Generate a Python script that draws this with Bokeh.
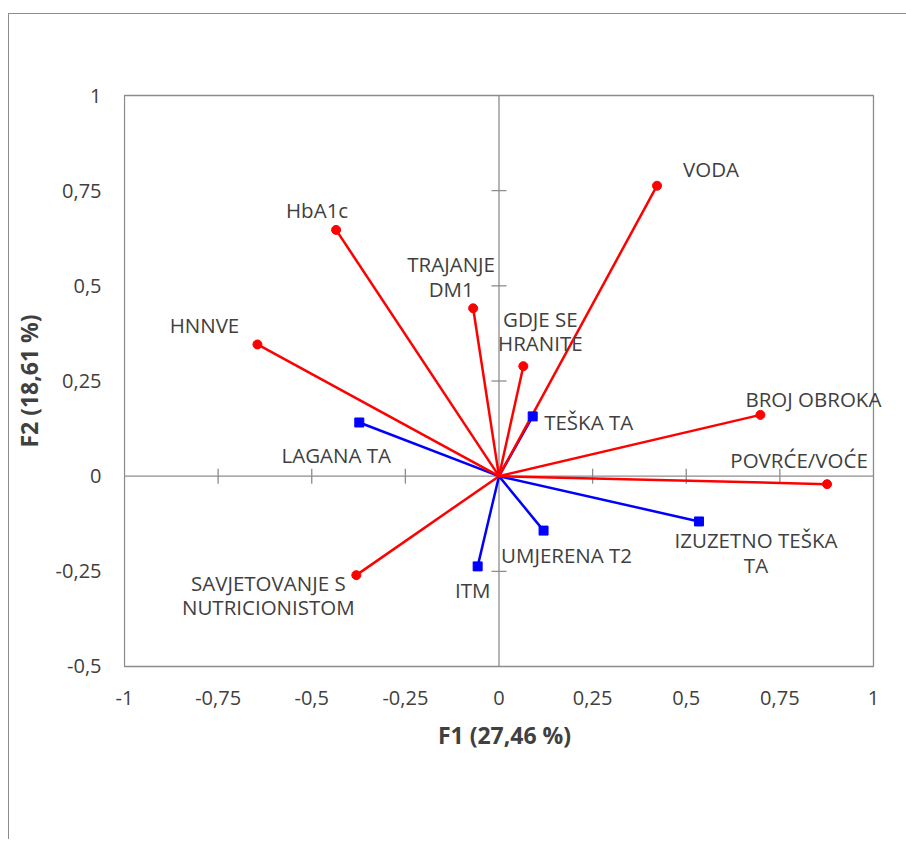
import math
from bokeh.plotting import figure
from bokeh.models import ColumnDataSource, FixedTicker, Label
from bokeh.embed import file_html
from bokeh.resources import INLINE

# ---- data ----
var_names = ["VODA", "HbA1c", "TRAJANJE\nDM1", "HNNVE", "GDJE SE\nHRANITE",
             "BROJ OBROKA", "POVRĆE/VOĆE", "SAVJETOVANJE S\nNUTRICIONISTOM"]
var_f1 = [0.422, -0.435, -0.069, -0.645, 0.065, 0.698, 0.876, -0.381]
var_f2 = [0.763, 0.647, 0.441, 0.346, 0.289, 0.161, -0.021, -0.260]

sup_names = ["LAGANA TA", "TEŠKA TA", "UMJERENA T2", "ITM", "IZUZETNO TEŠKA\nTA"]
sup_f1 = [-0.373, 0.090, 0.119, -0.057, 0.534]
sup_f2 = [0.141, 0.157, -0.143, -0.237, -0.119]

x_ticks = [-1, -0.75, -0.5, -0.25, 0, 0.25, 0.5, 0.75, 1]
x_tick_labels = ["-1", "-0,75", "-0,5", "-0,25", "0", "0,25", "0,5", "0,75", "1"]
y_ticks = [-0.5, -0.25, 0, 0.25, 0.5, 0.75, 1]
y_tick_labels = ["-0,5", "-0,25", "0", "0,25", "0,5", "0,75", "1"]

x_title = "F1 (27,46 %)"
y_title = "F2 (18,61 %)"

# ---- label placement (screen px offsets of block centre, +dy = downwards) ----
var_dx = [54, -19, -22, -53, 17, 53, -28, -88]
var_dy = [-17, -20, -32, -19, -35, -16, -24, 20]
sup_dx = [-23, 56, 23, -5, 57]
sup_dy = [33, 6, 24, 24, 31]
LINE_GAP = 24.5

FONT = "Open Sans"
GRAY = "#8c8c8c"
TXT = "#404040"
FS = "20.5px"

# plot box is 748 x 570 px; the drawing frame gets a little extra room so that
# labels may run over the box edge as in the original
PX_X = 748 / (x_ticks[-1] - x_ticks[0])
PX_Y = 570 / (y_ticks[-1] - y_ticks[0])
PAD_L, PAD_R, PAD_T, PAD_B = 1, 12, 2, 2
xr = (x_ticks[0] - PAD_L / PX_X, x_ticks[-1] + PAD_R / PX_X)
yr = (y_ticks[0] - PAD_B / PX_Y, y_ticks[-1] + PAD_T / PX_Y)

p = figure(width=898, height=826, x_range=xr, y_range=yr,
           output_backend="svg", toolbar_location=None,
           min_border_left=115 - PAD_L, min_border_right=34 - PAD_R,
           min_border_top=81 - PAD_T, min_border_bottom=174 - PAD_B)
p.margin = (13, 0, 0, 8)
p.styles = {"border-left": "1px solid #8c8c8c", "border-top": "1px solid #8c8c8c"}
p.background_fill_color = "white"
p.border_fill_color = "white"
p.outline_line_color = None
p.xgrid.visible = False
p.ygrid.visible = False

for ax in (p.xaxis[0], p.yaxis[0]):
    ax.axis_line_color = None
    ax.major_tick_line_color = None
    ax.minor_tick_line_color = None
    ax.major_tick_out = 0
    ax.major_tick_in = 0
    ax.minor_tick_out = 0
    ax.major_label_text_font = FONT
    ax.major_label_text_font_size = "20px"
    ax.major_label_text_color = TXT
    ax.axis_label_text_font = FONT
    ax.axis_label_text_font_style = "bold"
    ax.axis_label_text_font_size = "23px"
    ax.axis_label_text_color = TXT

p.xaxis.ticker = FixedTicker(ticks=x_ticks)
p.xaxis.major_label_overrides = dict(zip(x_ticks, x_tick_labels))
p.yaxis.ticker = FixedTicker(ticks=y_ticks)
p.yaxis.major_label_overrides = dict(zip(y_ticks, y_tick_labels))
p.xaxis.major_label_standoff = 20 + PAD_B
p.yaxis.major_label_standoff = 21 + PAD_L
p.xaxis.axis_label = x_title
p.yaxis.axis_label = y_title
p.xaxis.axis_label_standoff = 11
p.yaxis.axis_label_standoff = 8

# plot box
p.quad(left=x_ticks[0], right=x_ticks[-1], bottom=y_ticks[0], top=y_ticks[-1],
       fill_color=None, line_color=GRAY, line_width=1.3)
# zero lines with crossing ticks
p.segment(x0=[x_ticks[0], 0], y0=[0, y_ticks[0]], x1=[x_ticks[-1], 0], y1=[0, y_ticks[-1]],
          line_color=GRAY, line_width=1.3)
hx = [t for t in x_ticks if t not in (x_ticks[0], 0, x_ticks[-1])]
vy = [t for t in y_ticks if t not in (y_ticks[0], 0, y_ticks[-1])]
p.scatter(x=hx, y=[0] * len(hx), marker="dash", size=15, angle=math.pi / 2,
          line_color=GRAY, line_width=1.3)
p.scatter(x=[0] * len(vy), y=vy, marker="dash", size=15,
          line_color=GRAY, line_width=1.3)

vsrc = ColumnDataSource(dict(x=var_f1, y=var_f2, x0=[0] * len(var_f1), y0=[0] * len(var_f1)))
ssrc = ColumnDataSource(dict(x=sup_f1, y=sup_f2, x0=[0] * len(sup_f1), y0=[0] * len(sup_f1)))

p.segment(x0="x0", y0="y0", x1="x", y1="y", source=ssrc, line_color="#0000FF", line_width=2.5)
p.segment(x0="x0", y0="y0", x1="x", y1="y", source=vsrc, line_color="#FF0000", line_width=2.5)
p.scatter(x="x", y="y", source=vsrc, marker="circle", size=9,
          fill_color="#FF0000", line_color="#FF0000")
p.scatter(x="x", y="y", source=ssrc, marker="square", size=9,
          fill_color="#0000FF", line_color="#0000FF")

def add_labels(names, xs, ys, dxs, dys):
    for name, xv, yv, dx, dy in zip(names, xs, ys, dxs, dys):
        lines = name.split("\n")
        n = len(lines)
        for i, line in enumerate(lines):
            off = dy + (i - (n - 1) / 2) * LINE_GAP
            p.add_layout(Label(x=xv, y=yv, x_offset=dx, y_offset=-off, text=line,
                               text_font=FONT, text_font_size=FS, text_color=TXT,
                               text_align="center", text_baseline="middle"))

add_labels(var_names, var_f1, var_f2, var_dx, var_dy)
add_labels(sup_names, sup_f1, sup_f2, sup_dx, sup_dy)

open("out.html", "w").write(file_html(p, INLINE))
